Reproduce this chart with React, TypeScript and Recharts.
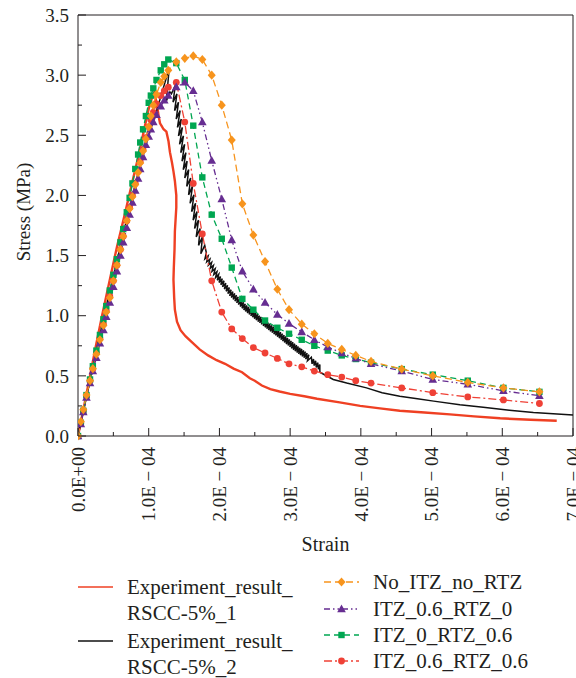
import React from "react";
import { LineChart, Line, XAxis, YAxis, ReferenceLine, Label } from "recharts";

// strain values are in units of 1e-4
const xTickValues = [0, 0.5, 1, 1.5, 2, 2.5, 3, 3.5, 4, 4.5, 5, 5.5, 6, 6.5, 7];
const xTickLabels = ["0.0E+00", "1.0E \u2212 04", "2.0E \u2212 04", "3.0E \u2212 04", "4.0E \u2212 04", "5.0E \u2212 04", "6.0E \u2212 04", "7.0E \u2212 04"];
const yTickValues = [0, 0.25, 0.5, 0.75, 1, 1.25, 1.5, 1.75, 2, 2.25, 2.5, 2.75, 3, 3.25, 3.5];
const yTickLabels = ["0.0", "0.5", "1.0", "1.5", "2.0", "2.5", "3.0", "3.5"];

// simulation strain steps (shared by the four numerical curves)
const simStrain = [
  0, 0.04, 0.075, 0.12, 0.17, 0.21, 0.26, 0.31, 0.36, 0.4, 0.45, 0.5, 0.55, 0.6, 0.64, 0.69, 0.73, 0.77, 0.81, 0.85,
  0.88, 0.92, 0.96, 1.0, 1.03, 1.065, 1.11, 1.17, 1.22, 1.277, 1.39, 1.51, 1.63, 1.758, 1.891, 2.033, 2.174, 2.324,
  2.48, 2.645, 2.819, 2.984, 3.164, 3.342, 3.532, 3.73, 3.928, 4.144, 4.578, 5.017, 5.512, 6.016, 6.525,
];

const noItzNoRtz = [
  0, 0.12, 0.22, 0.34, 0.46, 0.56, 0.68, 0.8, 0.92, 1.03, 1.15, 1.29, 1.42, 1.55, 1.66, 1.79, 1.89, 1.99, 2.09, 2.19,
  2.27, 2.37, 2.47, 2.57, 2.66, 2.75, 2.84, 2.94, 2.99, 3.04, 3.11, 3.14, 3.16, 3.13, 3.0, 2.75, 2.46, 1.93, 1.67,
  1.45, 1.22, 1.05, 0.93, 0.85, 0.77, 0.72, 0.67, 0.62, 0.556, 0.5, 0.445, 0.4, 0.367,
];
const itz06Rtz0 = [
  0, 0.1, 0.2, 0.32, 0.44, 0.54, 0.65, 0.77, 0.88, 0.99, 1.11, 1.24, 1.37, 1.5, 1.61, 1.73, 1.84, 1.94, 2.04, 2.14,
  2.22, 2.32, 2.42, 2.49, 2.55, 2.61, 2.67, 2.74, 2.79, 2.83, 2.9, 2.94, 2.87, 2.61, 2.29, 1.97, 1.63, 1.37, 1.22,
  1.11, 1.01, 0.935, 0.865, 0.8, 0.74, 0.69, 0.645, 0.6, 0.54, 0.47, 0.43, 0.375, 0.335,
];
const itz0Rtz06 = [
  0, 0.11, 0.21, 0.34, 0.47, 0.58, 0.71, 0.84, 0.97, 1.08, 1.21, 1.34, 1.47, 1.61, 1.72, 1.86, 1.98, 2.1, 2.22, 2.34,
  2.44, 2.55, 2.66, 2.77, 2.83, 2.89, 2.96, 3.04, 3.09, 3.13, 3.1, 2.96, 2.58, 2.15, 1.84, 1.64, 1.4, 1.14, 1.05,
  0.96, 0.9, 0.85, 0.8, 0.75, 0.71, 0.67, 0.64, 0.61, 0.556, 0.51, 0.46, 0.4, 0.367,
];
const itz06Rtz06 = [
  0, 0.11, 0.21, 0.33, 0.46, 0.56, 0.69, 0.81, 0.93, 1.04, 1.16, 1.29, 1.42, 1.55, 1.66, 1.79, 1.9, 2.0, 2.1, 2.2,
  2.28, 2.38, 2.48, 2.57, 2.63, 2.69, 2.76, 2.83, 2.87, 2.9, 2.94, 2.61, 2.1, 1.68, 1.29, 1.03, 0.89, 0.81, 0.735,
  0.69, 0.645, 0.6, 0.575, 0.54, 0.51, 0.49, 0.46, 0.44, 0.4, 0.36, 0.325, 0.3, 0.27,
];

// experiment 1: [strain, stress]
const exp1: [number, number][] = [
  [0, 0], [0.08, 0.23], [0.17, 0.5], [0.25, 0.74], [0.34, 1.0], [0.45, 1.3], [0.55, 1.57], [0.66, 1.84], [0.76, 2.09],
  [0.86, 2.34], [0.94, 2.56], [1.0, 2.72], [1.05, 2.82], [1.08, 2.86], [1.1, 2.8], [1.12, 2.74], [1.14, 2.66],
  [1.16, 2.6], [1.18, 2.58], [1.21, 2.55], [1.25, 2.53], [1.28, 2.45], [1.3, 2.36], [1.33, 2.27], [1.35, 2.2],
  [1.37, 2.12], [1.39, 2.0], [1.39, 1.9], [1.38, 1.8], [1.37, 1.7], [1.365, 1.55], [1.355, 1.4], [1.35, 1.3],
  [1.36, 1.15], [1.37, 1.05], [1.4, 0.95], [1.45, 0.88], [1.52, 0.83], [1.61, 0.78], [1.72, 0.72], [1.84, 0.67],
  [1.96, 0.63], [2.08, 0.6], [2.2, 0.56], [2.32, 0.53], [2.43, 0.48], [2.5, 0.46], [2.6, 0.42], [2.72, 0.39],
  [2.85, 0.37], [3.0, 0.35], [3.2, 0.33], [3.38, 0.31], [3.7, 0.28], [3.99, 0.25], [4.27, 0.23], [4.55, 0.21],
  [4.9, 0.195], [5.26, 0.18], [5.6, 0.163], [5.97, 0.147], [6.4, 0.135], [6.77, 0.127],
];

// experiment 2: [strain, stress], including the saw-tooth softening branch
const exp2: [number, number][] = [
  [0, 0], [0.1, 0.27], [0.2, 0.54], [0.37, 1.0], [0.5, 1.33], [0.6, 1.58], [0.7, 1.83], [0.8, 2.07], [0.9, 2.3],
  [1.0, 2.5], [1.1, 2.68], [1.18, 2.84], [1.24, 2.96], [1.29, 3.06], [1.26, 2.86], [1.24, 2.77], [1.3, 2.86],
  [1.321, 2.845], [1.376, 2.915], [1.344, 2.775], [1.399, 2.845], [1.366, 2.705], [1.421, 2.775], [1.389, 2.635],
  [1.444, 2.705], [1.406, 2.565], [1.461, 2.635], [1.421, 2.495], [1.476, 2.565], [1.436, 2.425], [1.491, 2.495],
  [1.453, 2.355], [1.508, 2.425], [1.471, 2.285], [1.526, 2.355], [1.488, 2.215], [1.543, 2.285], [1.51, 2.145],
  [1.565, 2.215], [1.538, 2.075], [1.593, 2.145], [1.564, 2.005], [1.619, 2.075], [1.585, 1.935], [1.64, 2.005],
  [1.607, 1.865], [1.662, 1.935], [1.628, 1.795], [1.683, 1.865], [1.649, 1.725], [1.704, 1.795], [1.672, 1.655],
  [1.727, 1.725], [1.705, 1.585], [1.76, 1.655], [1.737, 1.515], [1.792, 1.585],
  [1.815, 1.523], [1.795, 1.473], [1.84, 1.497], [1.82, 1.447], [1.865, 1.471], [1.845, 1.421], [1.89, 1.444],
  [1.87, 1.394], [1.915, 1.418], [1.895, 1.368], [1.94, 1.392], [1.92, 1.342], [1.965, 1.366], [1.945, 1.316],
  [1.99, 1.345], [1.97, 1.295], [2.015, 1.326], [1.995, 1.276], [2.04, 1.308], [2.02, 1.258], [2.065, 1.29],
  [2.045, 1.24], [2.09, 1.271], [2.07, 1.221], [2.115, 1.253], [2.095, 1.203], [2.14, 1.234], [2.12, 1.184],
  [2.165, 1.215], [2.145, 1.165], [2.19, 1.2], [2.17, 1.15], [2.215, 1.186], [2.195, 1.136], [2.24, 1.171],
  [2.22, 1.121], [2.265, 1.157], [2.245, 1.107], [2.29, 1.142], [2.27, 1.092], [2.315, 1.127], [2.295, 1.077],
  [2.34, 1.112], [2.32, 1.062], [2.365, 1.098], [2.345, 1.048], [2.39, 1.085], [2.37, 1.035], [2.415, 1.073],
  [2.395, 1.023], [2.44, 1.061], [2.42, 1.011], [2.465, 1.049], [2.445, 0.999], [2.49, 1.037], [2.47, 0.987],
  [2.515, 1.025], [2.495, 0.975], [2.54, 1.013], [2.52, 0.963], [2.565, 1.001], [2.545, 0.951], [2.59, 0.99],
  [2.57, 0.94], [2.615, 0.978], [2.595, 0.928], [2.64, 0.966], [2.62, 0.916], [2.665, 0.954], [2.645, 0.904],
  [2.69, 0.943], [2.67, 0.893], [2.715, 0.931], [2.695, 0.881], [2.74, 0.92], [2.72, 0.87], [2.765, 0.909],
  [2.745, 0.859], [2.79, 0.897], [2.77, 0.847], [2.815, 0.886], [2.795, 0.836], [2.84, 0.875], [2.82, 0.825],
  [2.865, 0.864], [2.845, 0.814], [2.89, 0.851], [2.87, 0.801], [2.915, 0.839], [2.895, 0.789], [2.94, 0.827],
  [2.92, 0.777], [2.965, 0.815], [2.945, 0.765], [2.99, 0.803], [2.97, 0.753], [3.015, 0.791], [2.995, 0.741],
  [3.04, 0.779], [3.02, 0.729], [3.065, 0.767], [3.045, 0.717], [3.09, 0.755], [3.07, 0.705], [3.115, 0.744],
  [3.095, 0.694], [3.14, 0.733], [3.12, 0.683], [3.165, 0.723], [3.145, 0.673], [3.19, 0.712], [3.17, 0.662],
  [3.215, 0.702], [3.195, 0.652], [3.24, 0.689], [3.22, 0.639], [3.265, 0.675], [3.245, 0.625],
  [3.3, 0.655], [3.31, 0.6], [3.33, 0.64], [3.34, 0.585], [3.36, 0.625], [3.37, 0.57], [3.39, 0.61], [3.4, 0.555],
  [3.42, 0.595], [3.42, 0.53], [3.5, 0.505], [3.61, 0.47], [3.8, 0.44], [4.08, 0.4], [4.3, 0.36], [4.55, 0.33],
  [4.8, 0.31], [5.03, 0.29], [5.4, 0.26], [5.73, 0.24], [6.1, 0.215], [6.44, 0.196], [7.0, 0.175],
];

const FONT = "Liberation Serif, Times New Roman, DejaVu Serif, serif";
const AXIS = "#231f20";
const RED = "#ef4023";
const BLACK = "#111111";
const ORANGE = "#f7941d";
const PURPLE = "#662d91";
const GREEN = "#00a651";
const RED_DOT = "#ef4136";

const TICK_MARGIN = 10;
const textStyle = { fontFamily: FONT };

const simRows = (ys: number[], key: string) => simStrain.map((s, i) => ({ strain: s, [key]: ys[i] }));
const expRows = (pts: [number, number][], key: string) => pts.map(([s, v]) => ({ strain: s, [key]: v }));

type Shape = "diamond" | "triangle" | "square" | "circle";

const Marker = ({ shape, cx, cy, color }: { shape: Shape; cx: number; cy: number; color: string }) => {
  if (shape === "diamond")
    return <path d={`M${cx},${cy - 4.6}L${cx + 4},${cy}L${cx},${cy + 4.6}L${cx - 4},${cy}Z`} fill={color} />;
  if (shape === "triangle")
    return <path d={`M${cx},${cy - 4.6}L${cx + 4.3},${cy + 3.2}L${cx - 4.3},${cy + 3.2}Z`} fill={color} />;
  if (shape === "square") return <rect x={cx - 3.2} y={cy - 3.2} width={6.4} height={6.4} fill={color} />;
  return <circle cx={cx} cy={cy} r={3.4} fill={color} />;
};

const makeDot = (shape: Shape, color: string) => (props: any) => {
  const { cx, cy, index } = props;
  if (cx == null || cy == null) return <g key={`n-${index}`} />;
  return (
    <g key={`${shape}-${index}`}>
      <Marker shape={shape} cx={cx} cy={cy} color={color} />
    </g>
  );
};

const YTick = (props: any) => {
  const { x, y, payload } = props;
  const v = payload.value as number;
  const axisX = x + TICK_MARGIN;
  const major = Math.abs(v * 2 - Math.round(v * 2)) < 1e-6;
  return (
    <g>
      <line x1={axisX} x2={axisX + (major ? 8 : 4)} y1={y} y2={y} stroke={AXIS} strokeWidth={1} />
      {major && (
        <text x={axisX - 9} y={y} dy="0.35em" textAnchor="end" style={textStyle} fontSize={19} fill={AXIS}>
          {yTickLabels[Math.round(v * 2)]}
        </text>
      )}
    </g>
  );
};

const XTick = (props: any) => {
  const { x, y, payload } = props;
  const v = payload.value as number;
  const axisY = y - TICK_MARGIN;
  const major = Math.abs(v - Math.round(v)) < 1e-6;
  return (
    <g>
      <line x1={x} x2={x} y1={axisY} y2={axisY - (major ? 8 : 4)} stroke={AXIS} strokeWidth={1} />
      {major && (
        <text
          transform={`translate(${x},${axisY + 11}) rotate(-90)`}
          dy="0.35em"
          textAnchor="end"
          style={textStyle}
          fontSize={19}
          fill={AXIS}
        >
          {xTickLabels[Math.round(v)]}
        </text>
      )}
    </g>
  );
};

const YLabel = ({ viewBox }: any) => (
  <text
    transform={`translate(${viewBox.x + 23},${viewBox.y + 197}) rotate(-90)`}
    dy="0.35em"
    textAnchor="middle"
    style={textStyle}
    fontSize={19}
    fill={AXIS}
  >
    Stress (MPa)
  </text>
);

const XLabel = ({ viewBox }: any) => (
  <text x={viewBox.x + viewBox.width / 2} y={viewBox.y + 115} textAnchor="middle" style={textStyle} fontSize={20} fill={AXIS}>
    Strain
  </text>
);

const LegendSample = ({ x, y, color, dash, shape }: { x: number; y: number; color: string; dash?: string; shape?: Shape }) => (
  <g>
    <line x1={x} x2={x + 35} y1={y} y2={y} stroke={color} strokeWidth={1.4} strokeDasharray={dash} />
    {shape && <Marker shape={shape} cx={x + 17.5} cy={y} color={color} />}
  </g>
);

const Legend = () => {
  const t = { style: textStyle, fontSize: 21, fill: "#231f20" } as const;
  return (
    <svg width={576} height={678} style={{ position: "absolute", left: 0, top: 0, pointerEvents: "none" }}>
      <LegendSample x={78} y={587} color={RED} />
      <text x={127} y={587} dy="0.35em" {...t}>Experiment_result_</text>
      <text x={127} y={613} dy="0.35em" {...t}>RSCC-5%_1</text>
      <LegendSample x={78} y={641} color={BLACK} />
      <text x={127} y={641} dy="0.35em" {...t}>Experiment_result_</text>
      <text x={127} y={667} dy="0.35em" {...t}>RSCC-5%_2</text>

      <LegendSample x={324} y={582} color={ORANGE} dash="7 4" shape="diamond" />
      <text x={373} y={582} dy="0.35em" {...t}>No_ITZ_no_RTZ</text>
      <LegendSample x={324} y={609} color={PURPLE} dash="6 3 1.5 3 1.5 3" shape="triangle" />
      <text x={373} y={609} dy="0.35em" {...t}>ITZ_0.6_RTZ_0</text>
      <LegendSample x={324} y={635} color={GREEN} dash="6 4" shape="square" />
      <text x={373} y={635} dy="0.35em" {...t}>ITZ_0_RTZ_0.6</text>
      <LegendSample x={324} y={661} color={RED_DOT} dash="8 3 2 3" shape="circle" />
      <text x={373} y={661} dy="0.35em" {...t}>ITZ_0.6_RTZ_0.6</text>
    </svg>
  );
};

export default function App() {
  return (
    <div style={{ position: "relative", width: 576, height: 678, background: "#fff", fontFamily: FONT }}>
      <style>{"body{margin:0}"}</style>
      <LineChart width={576} height={678} margin={{ top: 15, right: 3, left: 0, bottom: 122 }}>
        <XAxis
          dataKey="strain"
          type="number"
          domain={[0, 7]}
          ticks={xTickValues}
          interval={0}
          allowDataOverflow
          height={120}
          tickSize={0}
          tickMargin={TICK_MARGIN}
          tick={<XTick />}
          stroke={AXIS}
        >
          <Label content={<XLabel />} />
        </XAxis>
        <YAxis
          type="number"
          domain={[0, 3.5]}
          ticks={yTickValues}
          interval={0}
          width={78}
          tickSize={0}
          tickMargin={TICK_MARGIN}
          tick={<YTick />}
          stroke={AXIS}
        >
          <Label content={<YLabel />} />
        </YAxis>
        <ReferenceLine y={3.5} stroke={AXIS} strokeWidth={1} />
        <ReferenceLine x={7} stroke={AXIS} strokeWidth={1} />

        <Line data={expRows(exp1, "exp1")} dataKey="exp1" type="linear" stroke={RED} strokeWidth={2.4}
          dot={false} activeDot={false} isAnimationActive={false} />
        <Line data={expRows(exp2, "exp2")} dataKey="exp2" type="linear" stroke={BLACK} strokeWidth={1.5}
          dot={false} activeDot={false} isAnimationActive={false} />
        <Line data={simRows(itz06Rtz06, "itz06rtz06")} dataKey="itz06rtz06" type="linear" stroke={RED_DOT}
          strokeWidth={1.3} strokeDasharray="8 3 2 3" dot={makeDot("circle", RED_DOT)} activeDot={false}
          isAnimationActive={false} />
        <Line data={simRows(itz0Rtz06, "itz0rtz06")} dataKey="itz0rtz06" type="linear" stroke={GREEN}
          strokeWidth={1.3} strokeDasharray="6 4" dot={makeDot("square", GREEN)} activeDot={false}
          isAnimationActive={false} />
        <Line data={simRows(itz06Rtz0, "itz06rtz0")} dataKey="itz06rtz0" type="linear" stroke={PURPLE}
          strokeWidth={1.3} strokeDasharray="6 3 1.5 3 1.5 3" dot={makeDot("triangle", PURPLE)} activeDot={false}
          isAnimationActive={false} />
        <Line data={simRows(noItzNoRtz, "noitz")} dataKey="noitz" type="linear" stroke={ORANGE}
          strokeWidth={1.3} strokeDasharray="7 4" dot={makeDot("diamond", ORANGE)} activeDot={false}
          isAnimationActive={false} />
      </LineChart>
      <Legend />
    </div>
  );
}
